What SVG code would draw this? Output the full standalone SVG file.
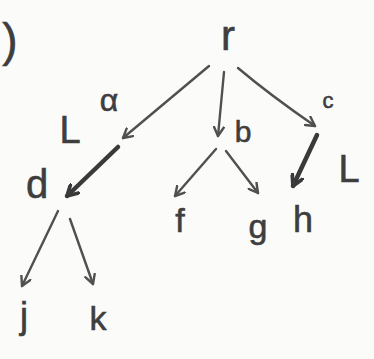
<svg xmlns="http://www.w3.org/2000/svg" width="374" height="359" viewBox="0 0 374 359">
  <defs>
    <marker id="head" viewBox="0 0 12 12" refX="10" refY="6" markerWidth="12" markerHeight="12" markerUnits="userSpaceOnUse" orient="auto">
      <path d="M1,1 L10,6 L1,11" fill="none" stroke="#505050" stroke-width="2.4" stroke-linecap="round" stroke-linejoin="round"/>
    </marker>
    <marker id="headBold" viewBox="0 0 12 12" refX="10" refY="6" markerWidth="14" markerHeight="14" markerUnits="userSpaceOnUse" orient="auto">
      <path d="M1,1 L10,6 L1,11" fill="none" stroke="#3a3a3a" stroke-width="3.2" stroke-linecap="round" stroke-linejoin="round"/>
    </marker>
  </defs>
  <style>
    .lbl { font-family: "Liberation Sans", "DejaVu Sans", sans-serif; fill: #3e3e3e; text-anchor: middle; stroke: #3e3e3e; stroke-width: 0.6; }
    .edge { fill: none; stroke: #505050; stroke-width: 2.4; stroke-linecap: round; marker-end: url(#head); }
    .bold { fill: none; stroke: #3a3a3a; stroke-width: 4.5; stroke-linecap: round; marker-end: url(#headBold); }
  </style>
  <rect width="374" height="359" fill="#fbfbfa"/>

  <!-- stray bracket at the page edge -->
  <text class="lbl" x="10" y="56" font-size="46">)</text>

  <!-- connectors -->
  <g id="edges">
    <path class="edge" d="M209,66 L123,138"/>
    <path class="edge" d="M224,72 L218,136"/>
    <path class="edge" d="M238,68 Q270,95 315,126"/>
    <path class="bold" d="M118,147 L67,196"/>
    <path class="edge" d="M216,149 L175,196"/>
    <path class="edge" d="M226,151 L258,193"/>
    <path class="bold" d="M317,135 L293,186"/>
    <path class="edge" d="M58,211 L22,286"/>
    <path class="edge" d="M70,219 L93,284"/>
  </g>

  <!-- nodes -->
  <g id="node-r"><text class="lbl" x="228" y="50" font-size="42">r</text></g>
  <g id="node-a"><text class="lbl" x="109" y="111" font-size="32">α</text></g>
  <g id="node-b"><text class="lbl" x="243" y="142" font-size="30">b</text></g>
  <g id="node-c"><text class="lbl" x="328" y="108" font-size="22">c</text></g>
  <g id="node-d"><text class="lbl" x="37" y="198" font-size="40">d</text></g>
  <g id="node-f"><text class="lbl" x="180" y="232" font-size="34">f</text></g>
  <g id="node-g"><text class="lbl" x="258" y="238" font-size="34">g</text></g>
  <g id="node-h"><text class="lbl" x="303" y="232" font-size="36">h</text></g>
  <g id="node-j"><text class="lbl" x="24" y="328" font-size="36">j</text></g>
  <g id="node-k"><text class="lbl" x="98" y="330" font-size="34">k</text></g>

  <!-- side marks -->
  <g id="mark-left"><text class="lbl" x="70" y="143" font-size="38">L</text></g>
  <g id="mark-right"><text class="lbl" x="349" y="182" font-size="38">L</text></g>
</svg>
